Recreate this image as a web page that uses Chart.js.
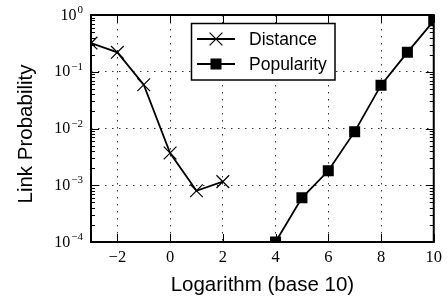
<!DOCTYPE html>
<html>
<head>
<meta charset="utf-8">
<script src="https://cdn.jsdelivr.net/npm/chart.js@4.4.1/dist/chart.umd.min.js"></script>
<style>
  body { margin: 0; background: #fff; }
  #wrap { width: 448px; height: 299px; }
</style>
</head>
<body>
<div id="wrap"><canvas id="linkChart"></canvas></div>
<script>
const distanceX = [-3, -2, -1, 0, 1, 2];
const distanceY = [0.32, 0.22, 0.059, 0.0037, 0.0008, 0.00116];
const popularityX = [4, 5, 6, 7, 8, 9, 10];
const popularityY = [0.0001, 0.0006, 0.0018, 0.0088, 0.058, 0.22, 0.79];
const xTicks = [-2, 0, 2, 4, 6, 8, 10];
const yExponents = [-4, -3, -2, -1, 0];
const seriesNames = ["Distance", "Popularity"];
const yTitle = "Link Probability";

const SERIF = "'Liberation Serif', 'DejaVu Serif', serif";
const SANS = "'Liberation Sans', Arial, sans-serif";

function toPoints(xs, ys) {
  return xs.map((x, i) => ({ x: x, y: ys[i] }));
}

// frame, inside ticks, superscript y labels, y title and the boxed legend
const decorPlugin = {
  id: "decor",
  afterDraw(chart) {
    const { ctx, chartArea: a, scales } = chart;
    ctx.save();
    ctx.strokeStyle = "#000";
    ctx.fillStyle = "#000";

    ctx.lineWidth = 1;
    ctx.beginPath();
    xTicks.forEach((v) => {
      const px = Math.round(scales.x.getPixelForValue(v)) + 0.5;
      ctx.moveTo(px, a.bottom); ctx.lineTo(px, a.bottom - 8);
      ctx.moveTo(px, a.top); ctx.lineTo(px, a.top + 8);
    });
    yExponents.forEach((e) => {
      for (let m = 1; m <= 9; m++) {
        const v = m * Math.pow(10, e);
        if (v > 1.0001) break;
        const len = m === 1 ? 8 : 4;
        const py = Math.round(scales.y.getPixelForValue(v)) + 0.5;
        ctx.moveTo(a.left, py); ctx.lineTo(a.left + len, py);
        ctx.moveTo(a.right, py); ctx.lineTo(a.right - len, py);
      }
    });
    ctx.stroke();

    ctx.lineWidth = 2;
    ctx.strokeRect(a.left, a.top, a.right - a.left, a.bottom - a.top);

    // y tick labels 10^e
    ctx.textAlign = "right";
    ctx.textBaseline = "alphabetic";
    yExponents.forEach((e) => {
      const py = scales.y.getPixelForValue(Math.pow(10, e));
      const exp = String(e).replace("-", "\u2212");
      ctx.font = "11px " + SERIF;
      const w = ctx.measureText(exp).width;
      ctx.fillText(exp, a.left - 8, py - 2);
      ctx.font = "16px " + SERIF;
      ctx.fillText("10", a.left - 9 - w, py + 4.5);
    });

    // y title
    ctx.save();
    ctx.translate(26, 134);
    ctx.rotate(-Math.PI / 2);
    ctx.textAlign = "center";
    ctx.textBaseline = "middle";
    ctx.font = "20.5px " + SANS;
    ctx.fillText(yTitle, 0, 0);
    ctx.restore();

    // legend
    const box = { l: 191.5, t: 23.5, r: 335, b: 80 };
    ctx.fillStyle = "#fff";
    ctx.fillRect(box.l, box.t, box.r - box.l, box.b - box.t);
    ctx.lineWidth = 1.5;
    ctx.strokeRect(box.l, box.t, box.r - box.l, box.b - box.t);
    const rows = [39, 64];
    ctx.font = "17.5px " + SANS;
    ctx.textAlign = "left";
    ctx.textBaseline = "middle";
    rows.forEach((y, i) => {
      ctx.strokeStyle = "#000";
      ctx.fillStyle = "#000";
      ctx.lineWidth = 1.8;
      ctx.beginPath();
      ctx.moveTo(197, y); ctx.lineTo(235, y);
      ctx.stroke();
      const cx = 216;
      if (i === 0) {
        ctx.lineWidth = 1.2;
        ctx.beginPath();
        ctx.moveTo(cx - 6.4, y - 6.4); ctx.lineTo(cx + 6.4, y + 6.4);
        ctx.moveTo(cx - 6.4, y + 6.4); ctx.lineTo(cx + 6.4, y - 6.4);
        ctx.stroke();
      } else {
        ctx.fillRect(cx - 5.5, y - 5.5, 11, 11);
      }
      ctx.fillText(chart.data.datasets[i].label, 249, y + 1);
    });
    ctx.restore();
  }
};

new Chart(document.getElementById("linkChart"), {
  type: "line",
  data: {
    datasets: [
      {
        label: seriesNames[0],
        data: toPoints(distanceX, distanceY),
        borderColor: "#000",
        borderWidth: 1.8,
        pointStyle: "crossRot",
        pointRadius: 9,
        pointBorderWidth: 1.2,
        pointBorderColor: "#000",
        pointBackgroundColor: "#000",
        tension: 0,
      },
      {
        label: seriesNames[1],
        data: toPoints(popularityX, popularityY),
        borderColor: "#000",
        borderWidth: 1.8,
        pointStyle: "rect",
        pointRadius: 7.8,
        pointBorderWidth: 0,
        pointBackgroundColor: "#000",
        tension: 0,
      },
    ],
  },
  options: {
    responsive: true,
    maintainAspectRatio: false,
    animation: false,
    layout: { padding: { left: 0, right: 14, top: 15, bottom: 0 } },
    plugins: { legend: { display: false }, tooltip: { enabled: false } },
    scales: {
      x: {
        type: "linear",
        min: -3,
        max: 10,
        afterBuildTicks: (scale) => { scale.ticks = xTicks.map((v) => ({ value: v })); },
        afterFit: (scale) => { scale.height = 57; },
        grid: { color: "#333", lineWidth: 1, drawTicks: false },
        border: { display: false, dash: [1.5, 5.5] },
        ticks: {
          color: "#000",
          font: { family: SERIF, size: 16.5 },
          padding: 6,
          maxRotation: 0,
          callback: (v) => String(v).replace("-", "\u2212"),
        },
        title: {
          display: true,
          text: "Logarithm (base 10)",
          color: "#000",
          font: { family: SANS, size: 20.5 },
          padding: { top: 0, bottom: 1.5 },
        },
      },
      y: {
        type: "logarithmic",
        min: 1e-4,
        max: 1,
        afterBuildTicks: (scale) => { scale.ticks = yExponents.map((e) => ({ value: Math.pow(10, e) })); },
        afterFit: (scale) => { scale.width = 91; },
        grid: { color: "#333", lineWidth: 1, drawTicks: false },
        border: { display: false, dash: [1.5, 5.5] },
        ticks: { display: false },
      },
    },
  },
  plugins: [decorPlugin],
});
</script>
</body>
</html>
